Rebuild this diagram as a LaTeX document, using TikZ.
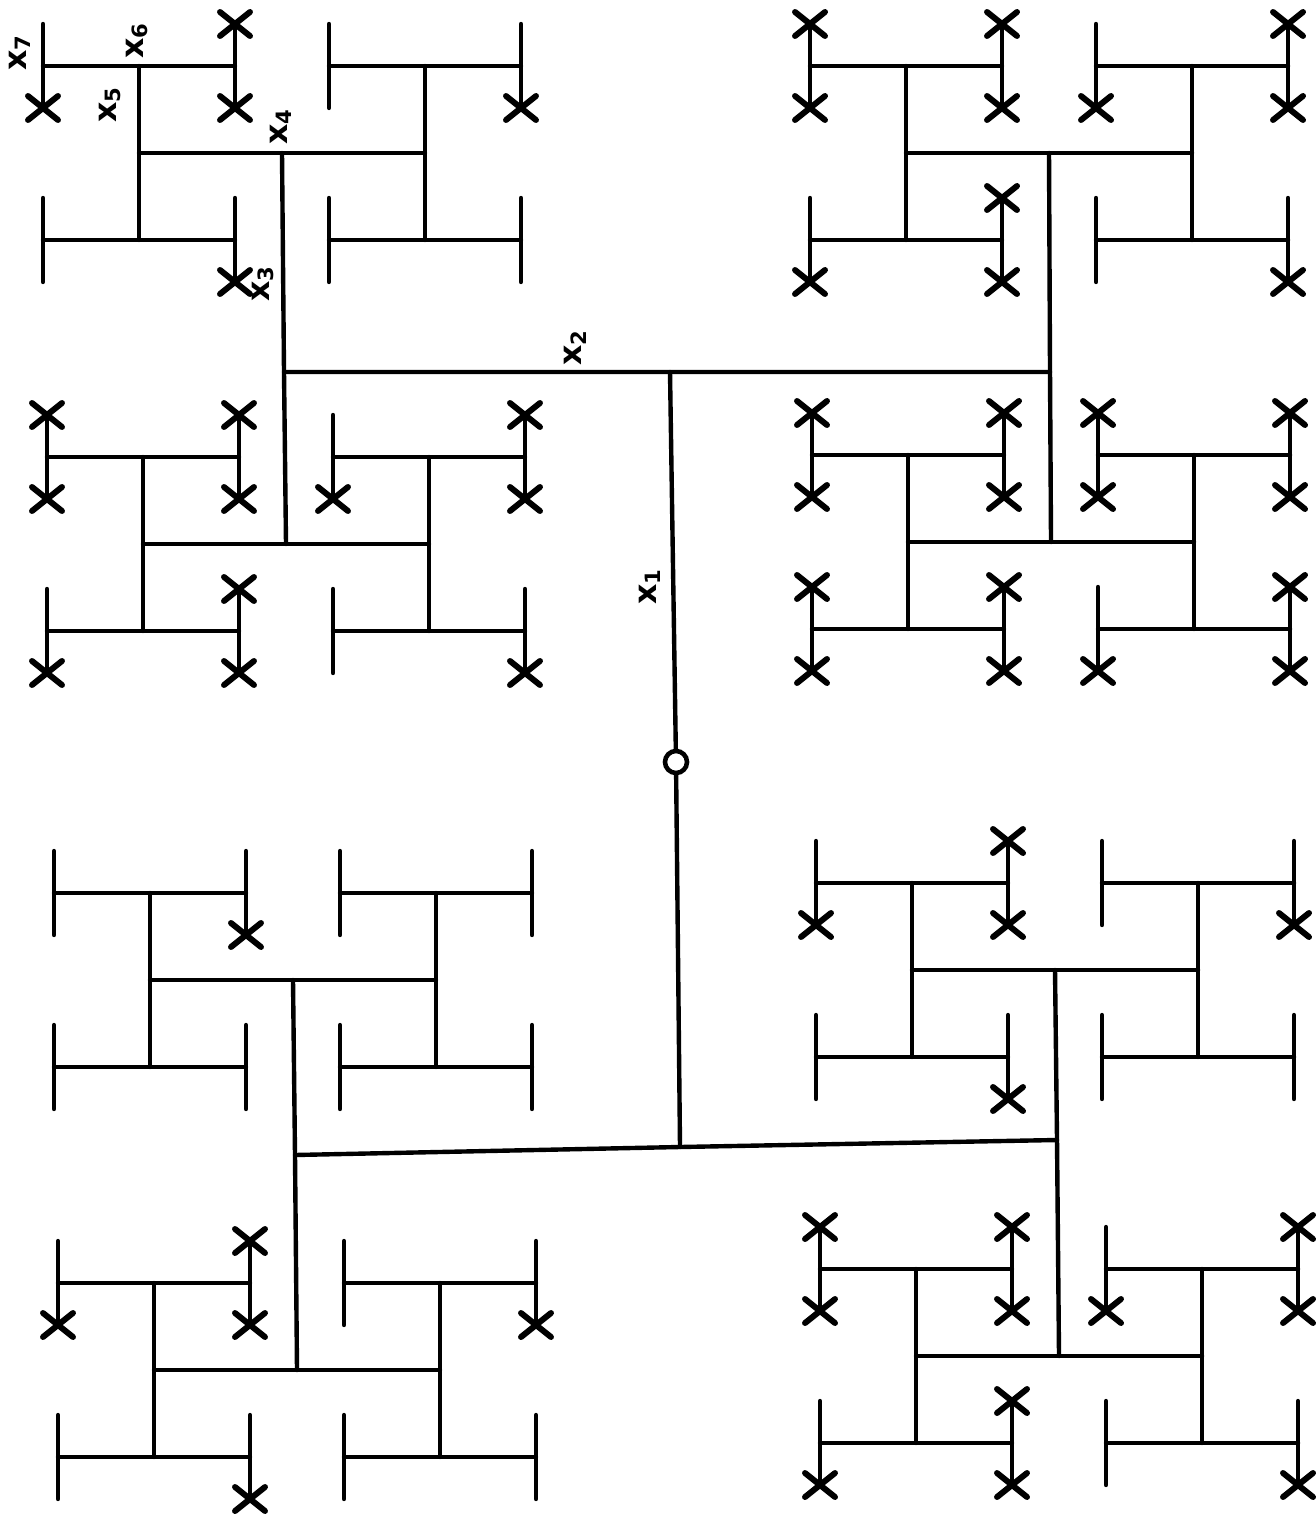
\documentclass[tikz,border=0pt]{standalone}
\usepackage{fontspec}
\setsansfont{DejaVu Sans}
\usepackage{tikz}
\tikzset{
  wire/.style={line width=1.25pt, line cap=round},
  xmark/.style={line width=1.7pt, line cap=round},
  lbl/.style={font=\fontsize{9}{10}\selectfont\sffamily\bfseries, rotate=90, inner sep=1pt},
  root/.style={circle, draw, line width=1.3pt, fill=white, minimum size=0.22cm, inner sep=0pt},
  xmk/.pic={\draw[xmark] (-15,-12) -- (15,12) (-15,12) -- (15,-12);},
}
\begin{document}
\begin{tikzpicture}[x=0.01cm, y=-0.01cm]
  \useasboundingbox (0,0) rectangle (1316,1516);
  % trunk x1
  \node[root] (o) at (676,762) {};
  \coordinate (t) at (670,372);
  \coordinate (b) at (680,1147);
  \draw[wire] (t) -- (o) -- (b);
  % x2
  \coordinate (tl) at (284,372);
  \coordinate (tr) at (1050,372);
  \coordinate (bl) at (295,1155);
  \coordinate (br) at (1057,1140);
  \draw[wire] (tl) -- (t) -- (tr) (bl) -- (b) -- (br);
  % x3
  \foreach \b/\cx/\cy in {tlt/282/153, tlb/286/544, trt/1049/153, trb/1051/542,
      blt/293/980, blb/297/1370, brt/1055/970, brb/1059/1356}
    \coordinate (\b) at (\cx,\cy);
  \draw[wire] (tlt) -- (tl) -- (tlb) (trt) -- (tr) -- (trb)
    (blt) -- (bl) -- (blb) (brt) -- (br) -- (brb);
  % x4 .. x7, crosses by code 0..3
  \foreach \b/\ka/\kb/\kc/\kd in {tlt/2/1/1/0, tlb/3/2/2/1, trt/3/2/2/1, trb/3/3/3/2,
      blt/1/0/0/0, blb/2/1/1/0, brt/2/1/1/0, brb/3/2/2/1}{
    \begin{scope}[shift={(\b)}]
      \coordinate (\b-w) at (-143,0);
      \coordinate (\b-e) at (143,0);
      \draw[wire] (\b-w) -- (\b-e);
      \foreach \s/\dx/\kn/\ks in {w/-143/\ka/\kc, e/143/\kb/\kd}{
        \begin{scope}[shift={(\dx,0)}]
          \coordinate (\b-\s-n) at (0,-87);
          \coordinate (\b-\s-s) at (0,87);
          \draw[wire] (\b-\s-n) -- (\b-\s-s);
          \foreach \t/\dy/\k in {n/-87/\kn, s/87/\ks}{
            \begin{scope}[shift={(0,\dy)}]
              \coordinate (\b-\s\t-w) at (-96,0);
              \coordinate (\b-\s\t-e) at (96,0);
              \coordinate (\b-\s\t-wn) at (-96,-42);
              \coordinate (\b-\s\t-ws) at (-96,42);
              \coordinate (\b-\s\t-en) at (96,-42);
              \coordinate (\b-\s\t-es) at (96,42);
              \draw[wire] (\b-\s\t-w) -- (\b-\s\t-e)
                (\b-\s\t-wn) -- (\b-\s\t-ws) (\b-\s\t-en) -- (\b-\s\t-es);
              \ifnum\k>0 \pic at (\b-\s\t-es) {xmk};\fi
              \ifnum\k>1 \pic at (\b-\s\t-ws) {xmk}; \pic at (\b-\s\t-en) {xmk};\fi
              \ifnum\k>2 \pic at (\b-\s\t-wn) {xmk};\fi
            \end{scope}
          }
        \end{scope}
      }
    \end{scope}
  }
  % labels
  \node[lbl] (x1) at (650,586) {x\textsubscript{1}};
  \node[lbl] (x2) at (575,347) {x\textsubscript{2}};
  \node[lbl] (x3) at (263,283) {x\textsubscript{3}};
  \node[lbl] (x4) at (281,126) {x\textsubscript{4}};
  \node[lbl] (x5) at (110,104) {x\textsubscript{5}};
  \node[lbl] (x6) at (137,40) {x\textsubscript{6}};
  \node[lbl] (x7) at (20,52) {x\textsubscript{7}};
\end{tikzpicture}
\end{document}
